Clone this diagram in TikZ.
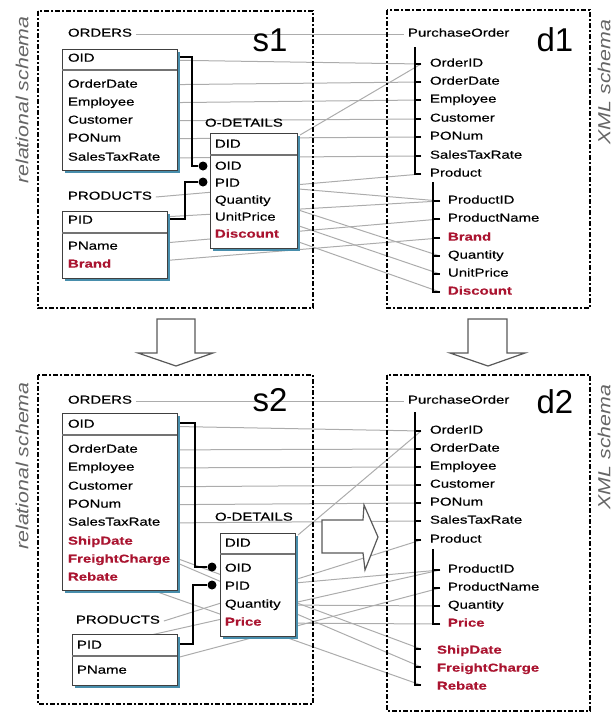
\documentclass[tikz,border=0pt]{standalone}
\usepackage{fontspec}
\setmainfont{Liberation Sans}
\newfontfamily\wf[FakeStretch=1.3,FakeBold=0.35]{Liberation Sans}
\newfontfamily\sidefont[FakeStretch=1.22]{Liberation Sans}
\usetikzlibrary{shadows,backgrounds,calc}
\definecolor{dred}{RGB}{170,20,48}
\definecolor{shblue}{RGB}{72,142,172}
\definecolor{lgray}{RGB}{172,172,172}
\tikzset{
  txt/.style={font=\wf\fontsize{11.5}{13}\selectfont, anchor=mid west, inner sep=0pt, outer sep=0pt, text=black, yshift=-1pt},
  rtxt/.style={txt, font=\wf\bfseries\fontsize{11.5}{13}\selectfont, text=dred},
  big/.style={font=\fontsize{33}{36}\selectfont, inner sep=0pt},
  side/.style={font=\sidefont\itshape\fontsize{17.5}{20}\selectfont, text=black!60, rotate=90, inner sep=0pt},
  tbl/.style={draw=black!75, line width=0.9pt, fill=white, anchor=north west, inner sep=0pt, outer sep=0pt,
    drop shadow={shadow xshift=3pt, shadow yshift=-3pt, fill=shblue, opacity=1}},
  sepline/.style={draw=black!55, line width=1.3pt},
  conn/.style={draw=lgray, line width=1pt},
  keyline/.style={draw=black, line width=1.3pt},
  dot/.style={circle, fill=black, inner sep=0pt, minimum size=9pt},
  tree/.style={draw=black, line width=1.3pt},
  dbox/.style={draw=black, line width=1.1pt, dash pattern=on 5pt off 2pt on 2pt off 2pt},
  hollow/.style={draw=black!65, line width=1.2pt, fill=white, line join=miter},
}
\begin{document}
\begin{tikzpicture}[x=1pt,y=-1pt]
\useasboundingbox (0,0) rectangle (615,713);

% side labels
\node[side] (rs1) at (22,100) {relational schema};
\node[side] (xs1) at (604,82) {XML schema};
\node[side] (rs2) at (22,466) {relational schema};
\node[side] (xs2) at (604,447) {XML schema};

% dashed frames
\draw[dbox] (38,11) rectangle (313,308);
\draw[dbox] (387,10) rectangle (590,308);
\draw[dbox] (38,375) rectangle (313,704);
\draw[dbox] (387,375) rectangle (590,711);

% hollow arrows
\draw[hollow] (157,319) -- (195,319) -- (195,353) -- (213,353) -- (176,366) -- (138,353) -- (157,353) -- cycle;
\draw[hollow] (468,319) -- (507,319) -- (507,353) -- (525,353) -- (488,366) -- (450,353) -- (468,353) -- cycle;

% ================= TOP =================
\node[big] (s1) at (270,40) {s1};
\node[big] (d1) at (555,40) {d1};

% ORDERS
\node[txt] (o1-lbl) at (68,33) {ORDERS};
\node[tbl, minimum width=115pt, minimum height=121pt] (o1-tab) at (62,49) {};
\draw[sepline] (o1-tab.west |- 0,70) -- (o1-tab.east |- 0,70);
\foreach \n/\t/\y in {oid/OID/58, orderdate/OrderDate/84, employee/Employee/102, customer/Customer/120, ponum/PONum/138, salestaxrate/SalesTaxRate/157}
  \node[txt] (o1-\n) at (68,\y) {\t};

% O-DETAILS
\node[txt] (od1-lbl) at (205,123) {O-DETAILS};
\node[tbl, minimum width=87pt, minimum height=115pt] (od1-tab) at (210,133) {};
\draw[sepline] (od1-tab.west |- 0,155) -- (od1-tab.east |- 0,155);
\foreach \n/\t/\y in {did/DID/144, oid/OID/166, pid/PID/183, quantity/Quantity/200, unitprice/UnitPrice/217}
  \node[txt] (od1-\n) at (215,\y) {\t};
\node[rtxt] (od1-discount) at (215,234) {Discount};

% PRODUCTS
\node[txt] (p1-lbl) at (68,196) {PRODUCTS};
\node[tbl, minimum width=105pt, minimum height=67pt] (p1-tab) at (62,211) {};
\draw[sepline] (p1-tab.west |- 0,233) -- (p1-tab.east |- 0,233);
\node[txt] (p1-pid) at (68,220) {PID};
\node[txt] (p1-pname) at (68,246) {PName};
\node[rtxt] (p1-brand) at (68,264) {Brand};

% keys
\node[dot] (k1-oid) at (203,166) {};
\node[dot] (k1-pid) at (203,182) {};
\draw[keyline] ($(o1-tab.east |- 0,57)+(3,0)$) -| ($(k1-oid)+(-11,0)$) -- (k1-oid);
\draw[keyline] ($(p1-tab.east |- 0,219)+(3,0)$) -| ($(k1-pid)+(-18,0)$) -- (k1-pid);

% d1 tree
\node[txt] (x1-po) at (408,33) {PurchaseOrder};
\foreach \n/\t/\y in {orderid/OrderID/63, orderdate/OrderDate/81, employee/Employee/99, customer/Customer/118, ponum/PONum/136, salestaxrate/SalesTaxRate/155, product/Product/173}
  \node[txt] (x1-\n) at (430,\y) {\t};
\draw[tree] (415,47) -- (415,173);
\foreach \n in {orderid,orderdate,employee,customer,ponum,salestaxrate,product}
  \draw[tree] ([xshift=-15.6pt]x1-\n.mid west) -- ([xshift=-9pt]x1-\n.mid west);
\node[txt] (x1-productid) at (448,200) {ProductID};
\node[txt] (x1-productname) at (448,218) {ProductName};
\node[rtxt] (x1-brand) at (448,237) {Brand};
\node[txt] (x1-quantity) at (448,255) {Quantity};
\node[txt] (x1-unitprice) at (448,273) {UnitPrice};
\node[rtxt] (x1-discount) at (448,291) {Discount};
\draw[tree] (433,182) -- (433,292);
\foreach \n in {productid,productname,brand,quantity,unitprice,discount}
  \draw[tree] ([xshift=-15.6pt]x1-\n.mid west) -- ([xshift=-8pt]x1-\n.mid west);

% ================= BOTTOM =================
\node[big] (s2) at (270,400) {s2};
\node[big] (d2) at (555,402) {d2};

\node[txt] (o2-lbl) at (68,400) {ORDERS};
\node[tbl, minimum width=115pt, minimum height=177pt] (o2-tab) at (62,413) {};
\draw[sepline] (o2-tab.west |- 0,435) -- (o2-tab.east |- 0,435);
\foreach \n/\t/\y in {oid/OID/424, orderdate/OrderDate/449, employee/Employee/467, customer/Customer/486, ponum/PONum/504, salestaxrate/SalesTaxRate/522}
  \node[txt] (o2-\n) at (68,\y) {\t};
\node[rtxt] (o2-shipdate) at (68,541) {ShipDate};
\node[rtxt] (o2-freightcharge) at (68,559) {FreightCharge};
\node[rtxt] (o2-rebate) at (68,577) {Rebate};

\node[txt] (od2-lbl) at (215,517) {O-DETAILS};
\node[tbl, minimum width=75pt, minimum height=103pt] (od2-tab) at (220,533) {};
\draw[sepline] (od2-tab.west |- 0,554) -- (od2-tab.east |- 0,554);
\foreach \n/\t/\y in {did/DID/543, oid/OID/568, pid/PID/586, quantity/Quantity/604}
  \node[txt] (od2-\n) at (225,\y) {\t};
\node[rtxt] (od2-price) at (225,622) {Price};

\node[txt] (p2-lbl) at (76,620) {PRODUCTS};
\node[tbl, minimum width=105pt, minimum height=51pt] (p2-tab) at (72,634) {};
\draw[sepline] (p2-tab.west |- 0,656) -- (p2-tab.east |- 0,656);
\node[txt] (p2-pid) at (77,645) {PID};
\node[txt] (p2-pname) at (77,670) {PName};

\node[dot] (k2-oid) at (212,567) {};
\node[dot] (k2-pid) at (212,585) {};
\draw[keyline] ($(o2-tab.east |- 0,423)+(3,0)$) -| ($(k2-oid)+(-17,0)$) -- (k2-oid);
\draw[keyline] ($(p2-tab.east |- 0,644)+(3,0)$) -| ($(k2-pid)+(-19,0)$) -- (k2-pid);

% d2 tree
\node[txt] (x2-po) at (408,400) {PurchaseOrder};
\foreach \n/\t/\y in {orderid/OrderID/430, orderdate/OrderDate/448, employee/Employee/466, customer/Customer/484, ponum/PONum/502, salestaxrate/SalesTaxRate/520, product/Product/539}
  \node[txt] (x2-\n) at (430,\y) {\t};
\node[txt] (x2-productid) at (448,569) {ProductID};
\node[txt] (x2-productname) at (448,587) {ProductName};
\node[txt] (x2-quantity) at (448,605) {Quantity};
\node[rtxt] (x2-price) at (448,623) {Price};
\node[rtxt] (x2-shipdate) at (437,650) {ShipDate};
\node[rtxt] (x2-freightcharge) at (437,668) {FreightCharge};
\node[rtxt] (x2-rebate) at (437,686) {Rebate};
\draw[tree] (415,412) -- (415,685);
\foreach \n in {orderid,orderdate,employee,customer,ponum,salestaxrate,product}
  \draw[tree] ([xshift=-15.6pt]x2-\n.mid west) -- ([xshift=-9pt]x2-\n.mid west);
\draw[tree] (433,549) -- (433,624);
\foreach \n in {productid,productname,quantity,price}
  \draw[tree] ([xshift=-15.6pt]x2-\n.mid west) -- ([xshift=-8pt]x2-\n.mid west);
\foreach \n in {shipdate,freightcharge,rebate}
  \draw[tree] ([xshift=-22.6pt,yshift=2pt]x2-\n.mid west) -- ([xshift=-16pt,yshift=2pt]x2-\n.mid west);

% right hollow arrow
\draw[hollow] (322,520) -- (363,520) -- (364,505) -- (378,537) -- (365,570) -- (363,553) -- (322,553) -- cycle;

% ================= CONNECTORS =================
\begin{pgfonlayer}{background}
% top
\draw[conn] ($(o1-lbl.mid east)+(4,0)$) -- ($(x1-po.mid west)+(-4,0)$);
\draw[conn] (o1-oid.mid east) -- ([xshift=-9pt]x1-orderid.mid west);
\draw[conn] ($(od1-tab.north east)+(3,2)$) -- ([xshift=-9pt]x1-orderid.mid west);
\foreach \n in {orderdate,employee,customer,ponum,salestaxrate}
  \draw[conn] (o1-\n.mid east) -- ([xshift=-9pt]x1-\n.mid west);
\draw[conn] ($(p1-lbl.mid east)+(4,0)$) -- ([xshift=-9pt]x1-product.mid west);
\draw[conn] (p1-pid.mid east) -- ([xshift=-8pt]x1-productid.mid west);
\draw[conn] (od1-pid.mid east) -- ([xshift=-8pt]x1-productid.mid west);
\draw[conn] (p1-pname.mid east) -- ([xshift=-8pt]x1-productname.mid west);
\draw[conn] (p1-brand.mid east) -- ([xshift=-8pt]x1-brand.mid west);
\draw[conn] (od1-quantity.mid east) -- ([xshift=-8pt]x1-quantity.mid west);
\draw[conn] (od1-unitprice.mid east) -- ([xshift=-8pt]x1-unitprice.mid west);
\draw[conn] (od1-discount.mid east) -- ([xshift=-8pt]x1-discount.mid west);
% bottom
\draw[conn] ($(o2-lbl.mid east)+(4,0)$) -- ($(x2-po.mid west)+(-4,0)$);
\draw[conn] (o2-oid.mid east) -- ([xshift=-9pt]x2-orderid.mid west);
\draw[conn] ($(od2-tab.north east)+(3,2)$) -- ([xshift=-9pt]x2-orderid.mid west);
\foreach \n in {orderdate,employee,customer,ponum,salestaxrate}
  \draw[conn] (o2-\n.mid east) -- ([xshift=-9pt]x2-\n.mid west);
\foreach \n in {shipdate,freightcharge,rebate}
  \draw[conn] (o2-\n.mid east) -- ([xshift=-16pt,yshift=2pt]x2-\n.mid west);
\draw[conn] ($(p2-lbl.mid east)+(4,0)$) -- ([xshift=-9pt]x2-product.mid west);
\draw[conn] (p2-pid.mid east) -- ([xshift=-8pt]x2-productid.mid west);
\draw[conn] (od2-pid.mid east) -- ([xshift=-8pt]x2-productid.mid west);
\draw[conn] (p2-pname.mid east) -- ([xshift=-8pt]x2-productname.mid west);
\draw[conn] (od2-quantity.mid east) -- ([xshift=-8pt]x2-quantity.mid west);
\draw[conn] (od2-price.mid east) -- ([xshift=-8pt]x2-price.mid west);
\end{pgfonlayer}
\end{tikzpicture}
\end{document}
